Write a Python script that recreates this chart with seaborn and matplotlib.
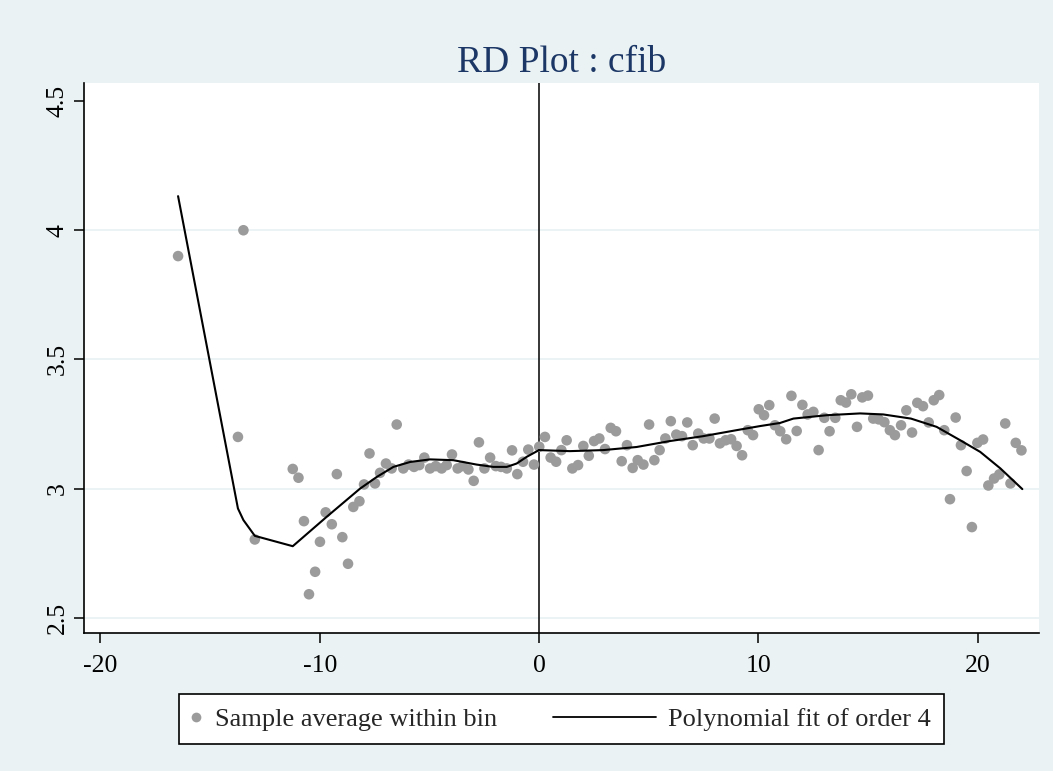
import matplotlib
matplotlib.use("Agg")
import matplotlib.pyplot as plt
import numpy as np
import seaborn as sns
from matplotlib.legend_handler import HandlerLine2D
from matplotlib.lines import Line2D

# bin averages (running variable, outcome)
bin_x = [-16.46, -13.73, -13.48, -12.96, -11.23, -10.97, -10.72, -10.49, -10.21, -9.99,
         -9.73, -9.45, -9.22, -8.97, -8.71, -8.47, -8.19, -7.98, -7.73, -7.48,
         -7.25, -6.98, -6.72, -6.49, -6.19, -5.95, -5.70, -5.46, -5.23, -4.97,
         -4.71, -4.44, -4.21, -3.97, -3.71, -3.48, -3.22, -2.98, -2.74, -2.49,
         -2.23, -1.97, -1.73, -1.47, -1.23, -0.99, -0.73, -0.49, -0.23, 0.01,
         0.27, 0.53, 0.78, 1.02, 1.26, 1.52, 1.78, 2.02, 2.27, 2.51,
         2.75, 3.01, 3.27, 3.51, 3.77, 4.01, 4.27, 4.50, 4.76, 5.02,
         5.26, 5.50, 5.76, 6.01, 6.26, 6.52, 6.76, 7.01, 7.26, 7.51,
         7.77, 8.01, 8.25, 8.51, 8.76, 9.01, 9.26, 9.52, 9.76, 10.02,
         10.26, 10.50, 10.76, 11.00, 11.27, 11.51, 11.75, 12.01, 12.25, 12.51,
         12.75, 13.01, 13.25, 13.51, 13.76, 14.00, 14.24, 14.50, 14.74, 15.00,
         15.24, 15.49, 15.75, 16.00, 16.23, 16.51, 16.75, 17.01, 17.25, 17.51,
         17.77, 18.00, 18.25, 18.48, 18.74, 19.00, 19.24, 19.50, 19.74, 19.99,
         20.25, 20.49, 20.75, 20.99, 21.26, 21.50, 21.74, 22.00]
bin_y = [3.900, 3.200, 4.000, 2.803, 3.076, 3.042, 2.874, 2.591, 2.678, 2.794,
         2.908, 2.862, 3.056, 2.812, 2.709, 2.929, 2.951, 3.016, 3.136, 3.020,
         3.061, 3.097, 3.078, 3.248, 3.078, 3.093, 3.084, 3.091, 3.120, 3.078,
         3.087, 3.078, 3.091, 3.132, 3.078, 3.087, 3.074, 3.030, 3.179, 3.078,
         3.120, 3.087, 3.084, 3.078, 3.148, 3.056, 3.104, 3.151, 3.093, 3.162,
         3.200, 3.120, 3.104, 3.149, 3.187, 3.078, 3.091, 3.165, 3.127, 3.184,
         3.194, 3.153, 3.235, 3.222, 3.106, 3.168, 3.080, 3.110, 3.093, 3.248,
         3.110, 3.149, 3.194, 3.261, 3.209, 3.203, 3.256, 3.168, 3.213, 3.194,
         3.194, 3.271, 3.175, 3.187, 3.191, 3.165, 3.129, 3.226, 3.207, 3.307,
         3.284, 3.323, 3.245, 3.222, 3.191, 3.359, 3.223, 3.324, 3.287, 3.297,
         3.149, 3.274, 3.222, 3.274, 3.342, 3.333, 3.365, 3.239, 3.353, 3.360,
         3.271, 3.268, 3.257, 3.226, 3.207, 3.245, 3.303, 3.217, 3.332, 3.319,
         3.256, 3.342, 3.362, 3.226, 2.959, 3.275, 3.168, 3.068, 2.851, 3.177,
         3.190, 3.012, 3.039, 3.055, 3.252, 3.020, 3.177, 3.148]

# polynomial fit, left and right of the cutoff
fit_left_x = [-16.46, -13.73, -13.48, -12.96, -11.23, -9.68, -8.16, -7.40, -6.64, -5.88,
              -4.97, -3.91, -2.85, -2.09, -1.47, -1.02, -0.56, 0.0]
fit_left_y = [4.132, 2.923, 2.878, 2.817, 2.777, 2.891, 3.000, 3.045, 3.084, 3.103,
              3.113, 3.110, 3.093, 3.084, 3.084, 3.097, 3.123, 3.149]
fit_right_x = [0.0, 1.41, 2.93, 4.45, 5.97, 7.49, 9.00, 10.08, 10.99, 11.60,
               13.12, 14.64, 15.70, 16.96, 18.13, 19.21, 20.12, 21.04, 22.04]
fit_right_y = [3.149, 3.145, 3.149, 3.161, 3.184, 3.203, 3.226, 3.242, 3.254, 3.271,
               3.284, 3.291, 3.287, 3.271, 3.239, 3.187, 3.142, 3.078, 2.998]

x_ticks = [-20, -10, 0, 10, 20]
y_ticks = [2.5, 3, 3.5, 4, 4.5]
y_labels = ["2.5", "3", "3.5", "4", "4.5"]

bg = "#eaf2f3"
dot = "#9b9b9b"
navy = "#1c3766"

sns.set_theme(style="white")
plt.rcParams["font.family"] = ["Liberation Serif", "DejaVu Serif"]

W, H = 1053, 771
fig = plt.figure(figsize=(W / 100, H / 100), dpi=100, facecolor=bg)
ax = fig.add_axes([84 / W, 1 - 633 / H, (1039 - 84) / W, (633 - 83) / H])
ax.set_facecolor("white")

for yv in y_ticks[:-1]:
    ax.axhline(yv, color=bg, lw=1.3, zorder=0)
ax.axvline(0, color="black", lw=1.1, zorder=1)

sns.scatterplot(x=bin_x, y=bin_y, ax=ax, color=dot, s=58, edgecolor="none",
                zorder=3, legend=False)
sns.lineplot(x=fit_left_x, y=fit_left_y, ax=ax, color="black", lw=1.5,
             sort=False, estimator=None, zorder=4)
sns.lineplot(x=fit_right_x, y=fit_right_y, ax=ax, color="black", lw=1.5,
             sort=False, estimator=None, zorder=4)

ax.set_xlim(-20.75, 22.8)
ax.set_ylim(2.441, 4.570)
ax.set_xticks(x_ticks)
ax.set_xticklabels([str(v) for v in x_ticks])
ax.set_yticks(y_ticks)
ax.set_yticklabels(y_labels, rotation=90, va="center")
ax.tick_params(axis="both", which="both", direction="out", length=7, width=1.1,
               color="black", labelsize=18.5, labelcolor="black")
ax.tick_params(axis="x", pad=9, bottom=True)
ax.tick_params(axis="y", pad=4, left=True)
for side in ["top", "right"]:
    ax.spines[side].set_visible(False)
for side in ["left", "bottom"]:
    ax.spines[side].set_color("black")
    ax.spines[side].set_linewidth(1.2)
ax.set_xlabel("")
ax.set_ylabel("")

fig.text((84 + 1039) / 2 / W, 1 - 72 / H, "RD Plot : cfib", ha="center",
         va="baseline", fontsize=27, color=navy)


class LongLine(HandlerLine2D):
    # legend line handle reaches further left than the handle box
    def get_xdata(self, legend, xdescent, ydescent, width, height, fontsize):
        xd, xm = super().get_xdata(legend, xdescent, ydescent, width, height, fontsize)
        return np.array([-xdescent + width - 72, -xdescent + width + 2]), xm


h_dot = Line2D([], [], ls="none", marker="o", color=dot, markersize=7,
               markeredgewidth=0)
h_fit = Line2D([], [], color="black", lw=1.3)
leg = fig.legend([h_dot, h_fit], ["Sample average within bin", "Polynomial fit of order 4"],
                 handler_map={h_fit: LongLine()}, ncol=2, loc="center",
                 bbox_to_anchor=((171 + 952) / 2 / W, 1 - 719 / H),
                 fontsize=19, frameon=True, fancybox=False, edgecolor="black",
                 facecolor="white", framealpha=1, handlelength=0.3,
                 handletextpad=0.57, columnspacing=5.6, borderpad=0.49)
leg.get_frame().set_linewidth(1.2)

fig.savefig("out.png", dpi=100, facecolor=bg)
